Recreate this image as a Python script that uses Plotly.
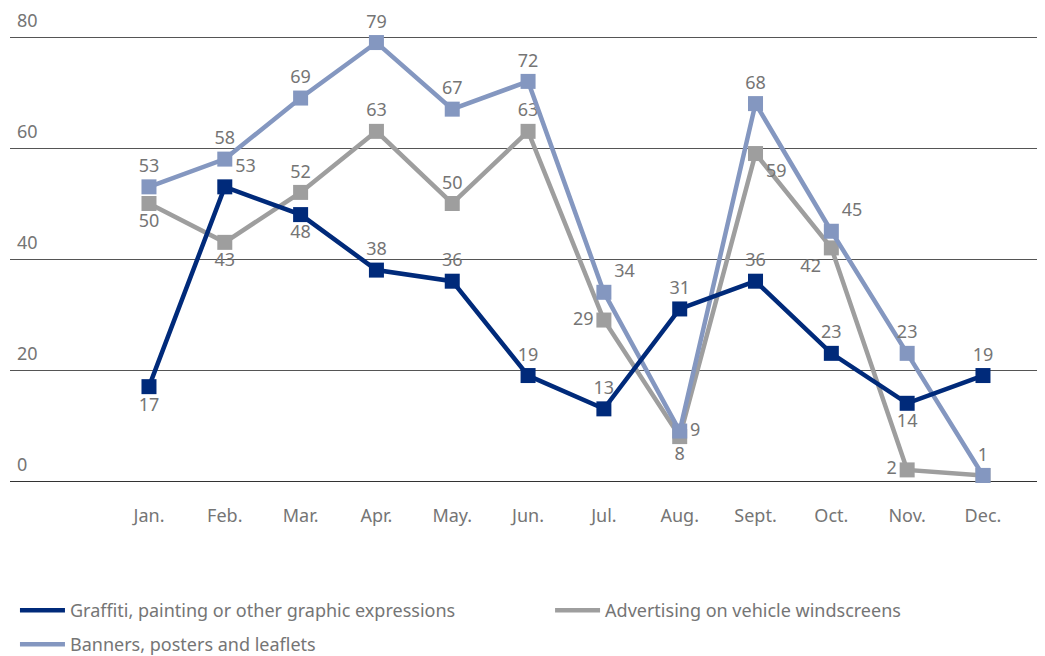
import plotly.graph_objects as go

months = ["Jan.", "Feb.", "Mar.", "Apr.", "May.", "Jun.", "Jul.", "Aug.", "Sept.", "Oct.", "Nov.", "Dec."]
graffiti = [17, 53, 48, 38, 36, 19, 13, 31, 36, 23, 14, 19]
advertising = [50, 43, 52, 63, 50, 63, 29, 8, 59, 42, 2, 1]
banners = [53, 58, 69, 79, 67, 72, 34, 9, 68, 45, 23, 1]

graffiti_pos = ["bottom center", "top right", "bottom center", "top center", "top center", "top center",
                "top center", "top center", "top center", "top center", "bottom center", "top center"]
advertising_pos = ["bottom center", "bottom center", "top center", "top center", "top center", "top center",
                   "middle left", "bottom center", "bottom right", "bottom left", "middle left", "bottom center"]
advertising_show = [True] * 11 + [False]
banners_pos = ["top center", "top center", "top center", "top center", "top center", "top center",
               "top right", "middle right", "top center", "top right", "top center", "top center"]

NAVY = "#002a7a"
GRAY = "#9e9e9e"
BLUE = "#8497c0"
TXT = "#757575"
FONT = "Noto Sans"
FS = 18

x = list(range(len(months)))

fig = go.Figure()

series = [
    ("Advertising on vehicle windscreens", advertising, GRAY, advertising_pos, advertising_show, "legend2"),
    ("Banners, posters and leaflets", banners, BLUE, banners_pos, [True] * 12, "legend3"),
    ("Graffiti, painting or other graphic expressions", graffiti, NAVY, graffiti_pos, [True] * 12, "legend"),
]

for name, vals, col, pos, show, leg in series:
    fig.add_trace(go.Scatter(
        x=x, y=vals, mode="lines", name=name, legend=leg,
        line=dict(color=col, width=4.5), cliponaxis=False, hoverinfo="skip"))
    fig.add_trace(go.Scatter(
        x=x, y=vals, mode="markers+text", showlegend=False,
        marker=dict(symbol="square", size=15, color=col),
        text=[str(v) if s else "" for v, s in zip(vals, show)],
        textposition=pos,
        textfont=dict(family=FONT, size=FS, color=TXT),
        cliponaxis=False))

legend_common = dict(orientation="v", xanchor="left", yanchor="top",
                     itemwidth=45, tracegroupgap=0, bgcolor="rgba(0,0,0,0)",
                     font=dict(family=FONT, size=FS, color=TXT))

fig.update_layout(
    width=1037, height=648,
    margin=dict(l=2, r=0, t=0, b=175, autoexpand=False),
    plot_bgcolor="white", paper_bgcolor="white",
    font=dict(family=FONT, size=FS, color=TXT),
    showlegend=True,
    legend=dict(x=0.0048, y=-0.2347, **legend_common),
    legend2=dict(x=0.5218, y=-0.2347, **legend_common),
    legend3=dict(x=0.0048, y=-0.3066, **legend_common),
    xaxis=dict(range=[-1.833, 11.818], tickvals=x, ticktext=months,
               showgrid=False, zeroline=False, showline=False, ticks="", automargin=False,
               ticklabelstandoff=22, tickfont=dict(family=FONT, size=FS, color=TXT)),
    yaxis=dict(range=[0, 85.225], tickvals=[0, 20, 40, 60, 80],
               showgrid=True, gridcolor="#555555", gridwidth=1,
               zeroline=True, zerolinecolor="#333333", zerolinewidth=1,
               showline=False, ticks="", automargin=False,
               ticklabelposition="inside", ticklabelshift=-16, ticklabelstandoff=4,
               ticklabeloverflow="allow",
               tickfont=dict(family=FONT, size=FS, color=TXT)),
)

fig.write_html("out.html")
